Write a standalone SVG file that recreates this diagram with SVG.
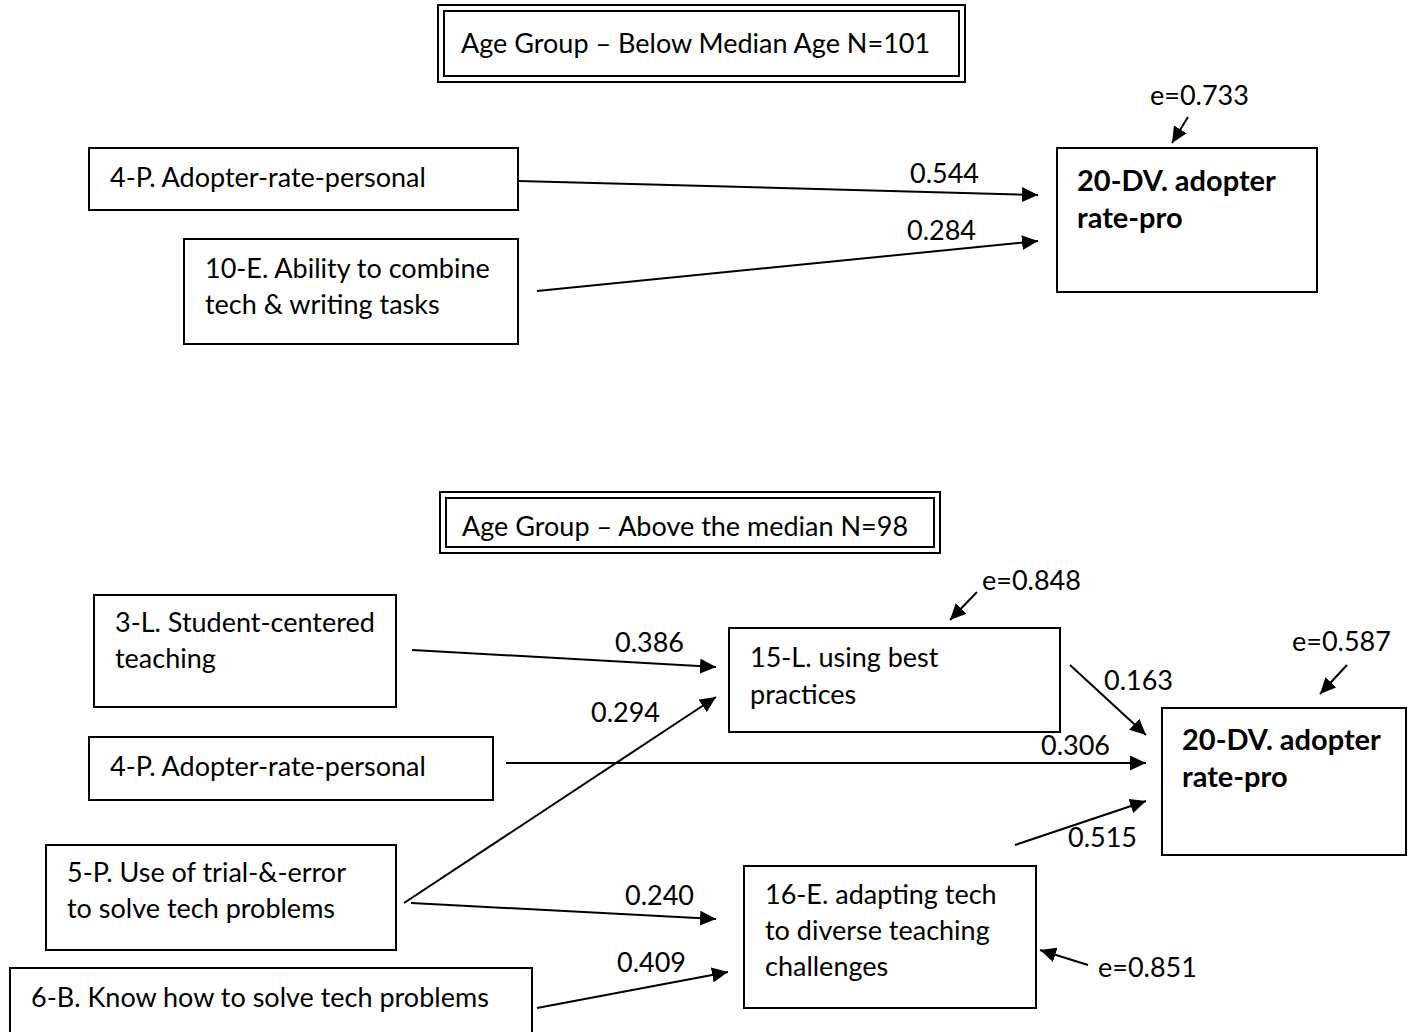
<svg xmlns="http://www.w3.org/2000/svg" width="1410" height="1032" viewBox="0 0 1410 1032">
  <defs>
    <style>
      .box { fill: #fff; stroke: #000; stroke-width: 2; }
      .dbl { fill: none; stroke: #000; stroke-width: 2; }
      .t { font-family: Lato, "Open Sans", "Liberation Sans", sans-serif; font-size: 27px; fill: #000; }
      .b { font-weight: bold; font-size: 29px; }
      .edge { fill: none; stroke: #000; stroke-width: 2; marker-end: url(#head); }
    </style>
    <marker id="head" viewBox="0 0 10 10" refX="10" refY="5" markerWidth="8" markerHeight="7.5" markerUnits="strokeWidth" orient="auto" preserveAspectRatio="none">
      <path d="M0,0 L10,5 L0,10 z" fill="#000"/>
    </marker>
    <clipPath id="title2clip">
      <rect x="440" y="499" width="490" height="42"/>
    </clipPath>
  </defs>

  <rect width="1410" height="1032" fill="#fff"/>

  <!-- ===== Group 1: below median age ===== -->
  <g id="title-below">
    <rect class="dbl" x="438" y="5" width="527" height="77"/>
    <rect class="dbl" x="444" y="11" width="515" height="65"/>
    <text class="t" x="461" y="53">Age Group – Below Median Age N=101</text>
  </g>

  <g id="n4p-top">
    <rect class="box" x="89" y="148" width="429" height="62"/>
    <text class="t" x="110" y="187">4-P. Adopter-rate-personal</text>
  </g>

  <g id="n10e">
    <rect class="box" x="184" y="239" width="334" height="105"/>
    <text class="t" x="205" y="278">10-E. Ability to combine</text>
    <text class="t" x="205" y="314">tech &amp; writing tasks</text>
  </g>

  <g id="dv-top">
    <rect class="box" x="1057" y="148" width="260" height="144"/>
    <text class="t b" x="1077" y="191">20-DV. adopter</text>
    <text class="t b" x="1077" y="228">rate-pro</text>
  </g>

  <g id="e-dv-top">
    <text class="t" x="1150" y="105">e=0.733</text>
  </g>

  <!-- ===== Group 2: above median age ===== -->
  <g id="title-above">
    <rect class="dbl" x="440" y="492" width="500" height="61"/>
    <rect class="dbl" x="446" y="498" width="488" height="49"/>
    <text class="t" x="462" y="536" clip-path="url(#title2clip)">Age Group – Above the median N=98</text>
  </g>

  <g id="n3l">
    <rect class="box" x="94" y="595" width="302" height="112"/>
    <text class="t" x="115" y="632">3-L. Student-centered</text>
    <text class="t" x="115" y="668">teaching</text>
  </g>

  <g id="n15l">
    <rect class="box" x="729" y="628" width="331" height="104"/>
    <text class="t" x="750" y="667">15-L. using best</text>
    <text class="t" x="750" y="704">practices</text>
  </g>

  <g id="e-15l">
    <text class="t" x="982" y="590">e=0.848</text>
  </g>

  <g id="n4p-bottom">
    <rect class="box" x="89" y="737" width="404" height="63"/>
    <text class="t" x="110" y="776">4-P. Adopter-rate-personal</text>
  </g>

  <g id="dv-bottom">
    <rect class="box" x="1162" y="708" width="244" height="147"/>
    <text class="t b" x="1182" y="750">20-DV. adopter</text>
    <text class="t b" x="1182" y="787">rate-pro</text>
  </g>

  <g id="e-dv-bottom">
    <text class="t" x="1292" y="651">e=0.587</text>
  </g>

  <g id="n5p">
    <rect class="box" x="46" y="845" width="350" height="105"/>
    <text class="t" x="67" y="882">5-P. Use of trial-&amp;-error</text>
    <text class="t" x="67" y="918">to solve tech problems</text>
  </g>

  <g id="n6b">
    <rect class="box" x="10" y="968" width="522" height="70"/>
    <text class="t" x="31" y="1007">6-B. Know how to solve tech problems</text>
  </g>

  <g id="n16e">
    <rect class="box" x="744" y="866" width="292" height="142"/>
    <text class="t" x="765" y="904">16-E. adapting tech</text>
    <text class="t" x="765" y="940">to diverse teaching</text>
    <text class="t" x="765" y="976">challenges</text>
  </g>

  <g id="e-16e">
    <text class="t" x="1098" y="977">e=0.851</text>
  </g>

  <!-- ===== Connectors ===== -->
  <g id="connectors">
    <!-- group 1 -->
    <line class="edge" x1="518" y1="181" x2="1038" y2="195"/>
    <line class="edge" x1="537" y1="291" x2="1038" y2="241"/>
    <line class="edge" x1="1188" y1="117" x2="1172" y2="143"/>
    <!-- group 2 -->
    <line class="edge" x1="412" y1="650" x2="716" y2="667"/>
    <line class="edge" x1="404" y1="903" x2="716" y2="697"/>
    <line class="edge" x1="411" y1="903" x2="716" y2="919"/>
    <line class="edge" x1="537" y1="1008" x2="728" y2="972"/>
    <line class="edge" x1="1070" y1="665" x2="1146" y2="735"/>
    <line class="edge" x1="506" y1="763" x2="1146" y2="763"/>
    <line class="edge" x1="1015" y1="845" x2="1146" y2="801"/>
    <line class="edge" x1="977" y1="592" x2="950" y2="620"/>
    <line class="edge" x1="1347" y1="665" x2="1320" y2="694"/>
    <line class="edge" x1="1088" y1="965" x2="1040" y2="950"/>
  </g>

  <!-- path coefficients -->
  <g id="edge-labels">
    <text class="t" x="910" y="183">0.544</text>
    <text class="t" x="907" y="240">0.284</text>
    <text class="t" x="615" y="652">0.386</text>
    <text class="t" x="591" y="722">0.294</text>
    <text class="t" x="625" y="905">0.240</text>
    <text class="t" x="617" y="972">0.409</text>
    <text class="t" x="1104" y="690">0.163</text>
    <text class="t" x="1041" y="755">0.306</text>
    <text class="t" x="1068" y="847">0.515</text>
  </g>
</svg>
